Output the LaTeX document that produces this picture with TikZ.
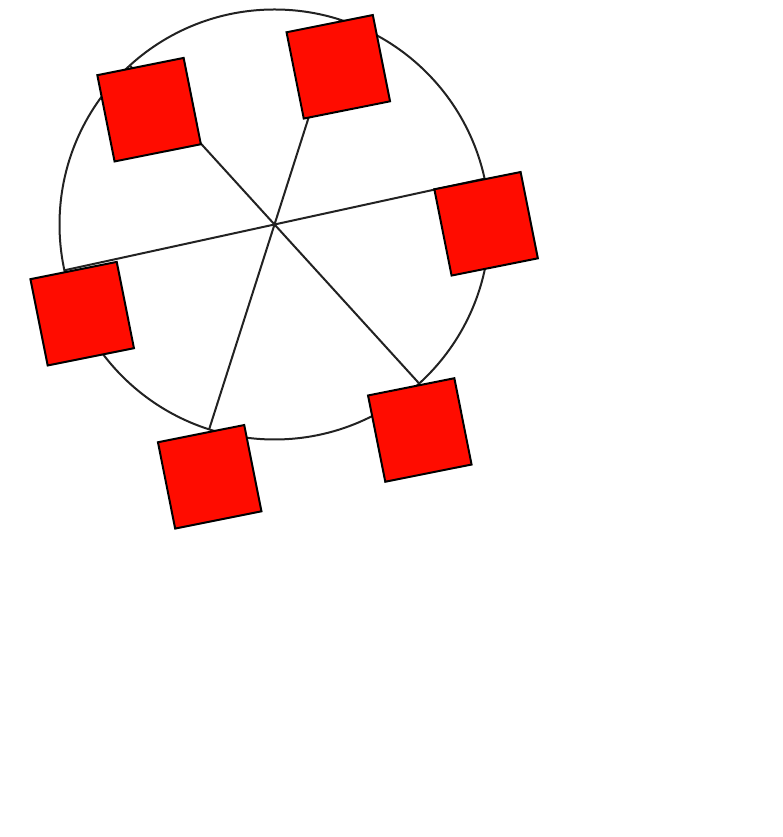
\documentclass[tikz,border=0pt]{standalone}
\usetikzlibrary{calc}
\definecolor{gondolared}{RGB}{255,12,0}
\definecolor{wheelgray}{RGB}{34,34,34}
\tikzset{
  wheel/.style={draw=wheelgray, line width=2pt},
  spoke/.style={draw=wheelgray, line width=2pt},
  gondola/.style={draw=black, fill=gondolared, line width=2pt, rectangle,
    minimum size=88pt, inner sep=0pt, rotate=11.3}
}
\begin{document}
\begin{tikzpicture}[x=1pt,y=1pt]
\useasboundingbox (0,0) rectangle (782,837);
\coordinate (hub) at (274.5,612.5);
\draw[wheel] (hub) circle[radius=215];
\foreach \i/\a in {1/12.3,2/72.3,3/132.3,4/192.3,5/252.3,6/312.3}{
  \coordinate (p\i) at ($(hub)+(\a:215)$);
  \draw[spoke] (hub) -- (p\i);
}
\node[gondola] (g1) at (149.1,727.3) {};
\node[gondola] (g2) at (338.3,770.2) {};
\node[gondola] (g3) at (486.1,613.2) {};
\node[gondola] (g4) at (82.2,523.3) {};
\node[gondola] (g5) at (209.7,360.2) {};
\node[gondola] (g6) at (419.8,407.0) {};
\end{tikzpicture}
\end{document}
